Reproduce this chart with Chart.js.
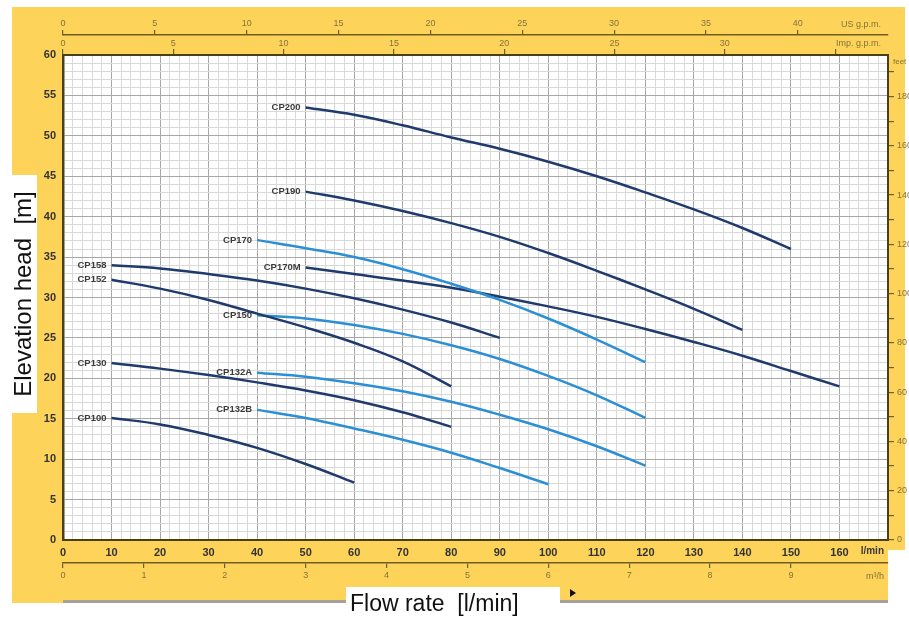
<!DOCTYPE html>
<html><head><meta charset="utf-8">
<script src="https://cdn.jsdelivr.net/npm/chart.js@4/dist/chart.umd.min.js"></script>
<style>html,body{margin:0;padding:0;background:#fff;}#wrap{position:relative;width:909px;height:619px;}</style>
</head><body><div id="wrap"><canvas id="c" width="909" height="619"></canvas></div>
<script>
// ---- data (flow rate Q in l/min, head H in m) ----
const FLOW_MAX = 170;
const HEAD_MAX = 60;
const CURVE_NAMES = ['CP200','CP190','CP170','CP170M','CP158','CP152','CP150','CP132A','CP130','CP132B','CP100'];
const CP200_Q = [50,60,70,80,90,100,110,120,130,140,150];
const CP200_H = [53.5,52.6,51.3,49.8,48.4,46.8,45.0,43.0,40.9,38.6,36.0];
const CP190_Q = [50,60,70,80,90,100,110,120,130,140];
const CP190_H = [43.1,42.0,40.7,39.2,37.5,35.5,33.3,31.0,28.6,26.0];
const CP170_Q = [40,50,60,70,80,90,100,110,120];
const CP170_H = [37.1,36.1,35.0,33.5,31.7,29.7,27.4,24.8,22.0];
const CP170M_Q = [50,60,70,80,90,100,110,120,130,140,150,160];
const CP170M_H = [33.7,32.9,32.1,31.2,30.1,28.9,27.6,26.1,24.5,22.8,20.9,19.0];
const CP158_Q = [10,20,30,40,50,60,70,80,90];
const CP158_H = [34.0,33.6,32.9,32.1,31.1,29.9,28.5,26.9,25.0];
const CP152_Q = [10,20,30,40,50,60,70,80];
const CP152_H = [32.2,31.1,29.7,28.0,26.3,24.4,22.1,19.0];
const CP150_Q = [40,50,60,70,80,90,100,110,120];
const CP150_H = [27.8,27.4,26.6,25.5,24.1,22.4,20.3,17.9,15.1];
const CP132A_Q = [40,50,60,70,80,90,100,110,120];
const CP132A_H = [20.7,20.2,19.4,18.4,17.1,15.5,13.7,11.6,9.2];
const CP130_Q = [10,20,30,40,50,60,70,80];
const CP130_H = [21.9,21.2,20.4,19.5,18.5,17.3,15.8,14.0];
const CP132B_Q = [40,50,60,70,80,90,100];
const CP132B_H = [16.1,15.1,13.8,12.4,10.8,8.9,6.9];
const CP100_Q = [10,20,30,40,50,60];
const CP100_H = [15.1,14.3,13.0,11.4,9.4,7.1];
const CURVE_Q = [CP200_Q,CP190_Q,CP170_Q,CP170M_Q,CP158_Q,CP152_Q,CP150_Q,CP132A_Q,CP130_Q,CP132B_Q,CP100_Q];
const CURVE_H = [CP200_H,CP190_H,CP170_H,CP170M_H,CP158_H,CP152_H,CP150_H,CP132A_H,CP130_H,CP132B_H,CP100_H];
const LIGHT_CURVES = ['CP170','CP150','CP132A','CP132B'];

// unit conversions for secondary axes
const L_PER_USG = 3.78541, L_PER_IMPG = 4.54609, L_PER_M3H = 1000/60, M_PER_FT = 0.3048;

const DARK = '#1f3a6c', LIGHT = '#2b8fd6';
const YELLOW = '#fdd35a', OLIVE = '#4b3f17', BROWN = '#85733a';
const FONT = '"Liberation Sans", Arial, sans-serif';

const datasets = CURVE_NAMES.map((n,i)=>({
  label:n,
  data: CURVE_Q[i].map((q,j)=>({x:q,y:CURVE_H[i][j]})),
  borderColor: LIGHT_CURVES.includes(n)?LIGHT:DARK,
  borderWidth: 2.5,
  pointRadius: 0,
  fill:false,
  showLine:true,
  tension:0.4,
  xAxisID:'x', yAxisID:'y'
}));

const isInt = (v,m)=> Math.abs(v-Math.round(v))<1e-6 && Math.round(v)%m===0;

const bgPlugin = {
  id:'bg',
  beforeDraw(chart){
    const c = chart.ctx, a = chart.chartArea;
    c.save();
    c.fillStyle = YELLOW;
    c.fillRect(12,7,893,543);
    c.fillRect(12,550,876,53);
    // gray strips at the bottom
    c.fillStyle = '#a6a29a';
    c.fillRect(63,600,283,3);
    c.fillRect(560,600,328,3);
    // white boxes for the titles
    c.fillStyle = '#ffffff';
    c.fillRect(0,175,37,238);
    c.fillRect(346,587,214,32);
    c.fillRect(a.left,a.top,a.right-a.left,a.bottom-a.top);
    c.restore();
  },
  afterDraw(chart){
    const c = chart.ctx;
    c.save();
    // curve labels at the first point of each curve
    c.font = 'bold 9.5px '+FONT;
    c.fillStyle = '#3c3c3c';
    c.textAlign = 'right'; c.textBaseline = 'middle';
    chart.data.datasets.forEach((ds,i)=>{
      const p = chart.getDatasetMeta(i).data[0];
      c.fillText(ds.label, p.x-5, p.y);
    });
    // unit labels
    c.fillStyle = BROWN;
    c.font = '9px '+FONT;
    c.textAlign = 'right';
    c.fillText('US g.p.m.', 881, 25);
    c.fillText('Imp. g.p.m.', 881, 44);
    c.fillText('m³/h', 884, 577);
    c.textAlign = 'left';
    c.font = '8px '+FONT;
    c.fillText('feet', 893, 62);
    c.fillStyle = '#3a3a3a';
    c.font = 'bold 10px '+FONT;
    c.textAlign = 'right';
    c.fillText('l/min', 884, 551);
    // axis titles
    c.fillStyle = '#111';
    c.font = '23px '+FONT;
    c.textAlign = 'left';
    c.fillText('Flow rate  [l/min]', 350, 605);
    c.save();
    c.translate(24, 294);
    c.rotate(-Math.PI/2);
    c.textAlign = 'center';
    c.font = '24px '+FONT;
    c.fillText('Elevation head  [m]', 0, 0);
    c.restore();
    // small triangle
    c.fillStyle = '#111';
    c.beginPath(); c.moveTo(570,589); c.lineTo(576,593); c.lineTo(570,597); c.closePath(); c.fill();
    c.restore();
  }
};

new Chart(document.getElementById('c'), {
  type:'line',
  data:{datasets},
  plugins:[bgPlugin],
  options:{
    responsive:false, animation:false,
    layout:{padding:{top:10,bottom:29,left:0,right:0}},
    plugins:{legend:{display:false}, tooltip:{enabled:false}},
    scales:{
      x:{type:'linear', axis:'x', position:'bottom', weight:0, min:0, max:FLOW_MAX,
        ticks:{stepSize:2, autoSkip:false, minRotation:0, maxRotation:0, padding:6, color:'#333',
          font:{family:FONT,size:11,weight:'bold'},
          callback:(v)=> (isInt(v,10) && v<FLOW_MAX)? String(v) : ''},
        grid:{color:(ctx)=> (ctx.tick && isInt(ctx.tick.value,10)) ? '#a8a8a8' : '#d9d9d9', lineWidth:1, drawTicks:false},
        border:{display:true, color:OLIVE, width:2},
        afterFit:(s)=>{s.height=23;}
      },
      xm3:{type:'linear', axis:'x', position:'bottom', weight:1, min:0, max:FLOW_MAX/L_PER_M3H,
        ticks:{stepSize:1, includeBounds:false, autoSkip:false, maxRotation:0, padding:2, color:BROWN,
          font:{family:FONT,size:9}, callback:(v)=> v<10 ? String(v) : ''},
        grid:{drawOnChartArea:false, drawTicks:true, tickLength:5, lineWidth:1.2,
          color:(ctx)=> (ctx.tick && ctx.tick.value>=10) ? 'rgba(0,0,0,0)' : '#6f5f25'},
        border:{display:true, color:'#6f5f25', width:1.5},
        afterFit:(s)=>{s.height=27;}
      },
      y:{type:'linear', axis:'y', position:'left', min:0, max:HEAD_MAX,
        ticks:{stepSize:1, autoSkip:false, padding:7, color:'#333',
          font:{family:FONT,size:11,weight:'bold'},
          callback:(v)=> isInt(v,5) ? String(v) : ''},
        grid:{color:(ctx)=> (ctx.tick && isInt(ctx.tick.value,5)) ? '#a8a8a8' : '#d9d9d9', lineWidth:1, drawTicks:false},
        border:{display:true, color:OLIVE, width:2.5},
        afterFit:(s)=>{s.width=63;}
      },
      yft:{type:'linear', axis:'y', position:'right', min:0, max:HEAD_MAX/M_PER_FT,
        ticks:{stepSize:10, includeBounds:false, autoSkip:false, padding:3, color:BROWN,
          font:{family:FONT,size:9}, callback:(v)=> isInt(v,20) ? String(v) : ''},
        grid:{drawOnChartArea:false, drawTicks:true, tickLength:6, lineWidth:1.2, color:'#6f5f25'},
        border:{display:true, color:OLIVE, width:2},
        afterFit:(s)=>{s.width=21;}
      },
      ximp:{type:'linear', axis:'x', position:'top', weight:0, min:0, max:FLOW_MAX/L_PER_IMPG,
        ticks:{stepSize:5, includeBounds:false, autoSkip:false, maxRotation:0, padding:0, color:BROWN,
          font:{family:FONT,size:9}, callback:(v)=> v<35 ? String(v) : ''},
        grid:{drawOnChartArea:false, drawTicks:true, tickLength:6, lineWidth:1.2, color:'#6f5f25'},
        border:{display:true, color:OLIVE, width:2},
        afterFit:(s)=>{s.height=20;}
      },
      xus:{type:'linear', axis:'x', position:'top', weight:1, min:0, max:FLOW_MAX/L_PER_USG,
        ticks:{stepSize:5, includeBounds:false, autoSkip:false, maxRotation:0, padding:1, color:BROWN,
          font:{family:FONT,size:9}},
        grid:{drawOnChartArea:false, drawTicks:true, tickLength:5, lineWidth:1.2, color:'#6f5f25'},
        border:{display:true, color:'#6f5f25', width:1.5},
        afterFit:(s)=>{s.height=25;}
      }
    }
  }
});
</script></body></html>
